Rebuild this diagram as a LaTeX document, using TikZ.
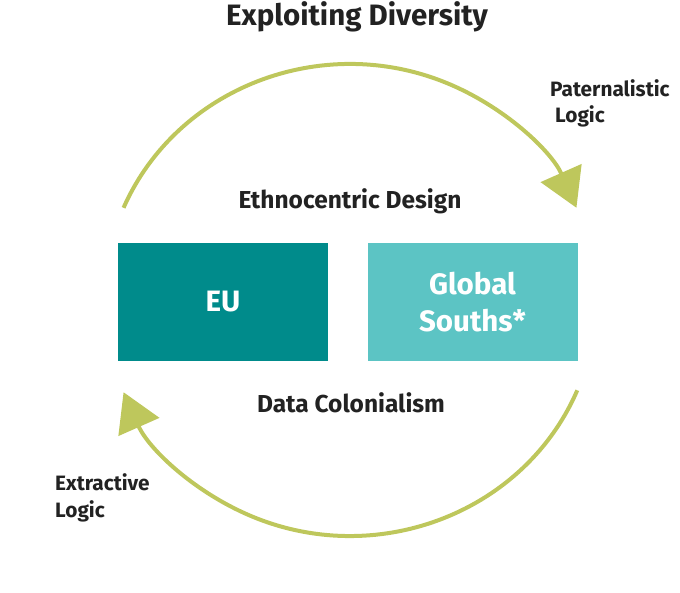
\documentclass[tikz,border=0pt]{standalone}
\usepackage{fontspec}
\setmainfont{Fira Sans}
\usetikzlibrary{arrows.meta,calc}
\definecolor{olive}{RGB}{190,199,92}
\definecolor{tealdark}{RGB}{0,139,139}
\definecolor{teallight}{RGB}{92,196,196}
\definecolor{txt}{RGB}{34,34,34}
\tikzset{
  cyclearc/.style={draw=olive, line width=4pt, -{Triangle[length=38pt,width=44pt,fill=olive]}},
  box/.style={minimum width=210pt, minimum height=118pt, inner sep=0pt, text=white, font=\fontsize{29.5}{37}\selectfont\bfseries, align=center},
  lbl/.style={text=txt, font=\fontsize{24.5}{26}\selectfont\bfseries, inner sep=0pt, anchor=base},
  side/.style={text=txt, font=\fontsize{20.8}{26.5}\selectfont\bfseries, inner sep=0pt, align=left, anchor=base west},
}
\begin{document}
\begin{tikzpicture}[x=1pt,y=-1pt]
\useasboundingbox (0,0) rectangle (680,593);
\node[lbl, font=\fontsize{29.5}{30}\selectfont\bfseries] (title) at (357,26) {Exploiting Diversity};
\node[box, fill=tealdark] (eu) at (223,302) {EU};
\node[box, fill=teallight] (gs) at (472.5,302) {Global\\Souths*};
\node[lbl] (ethno) at (350,209) {Ethnocentric Design};
\node[lbl] (datac) at (351,413) {Data Colonialism};
\node[side] (pat) at (550,123) {Paternalistic\\\hspace*{5pt}Logic};
\node[side] (ext) at (55,517) {Extractive\\Logic};
\coordinate (c) at (350,300);
\coordinate (tstart) at ($(c)+(-157:246 and 236)$);
\coordinate (bstart) at ($(c)+(22.5:246 and 236)$);
\path[cyclearc] (tstart) arc[start angle=-157, end angle=-23, x radius=246, y radius=236];
\path[cyclearc] (bstart) arc[start angle=22.5, end angle=157, x radius=246, y radius=236];
\end{tikzpicture}
\end{document}
